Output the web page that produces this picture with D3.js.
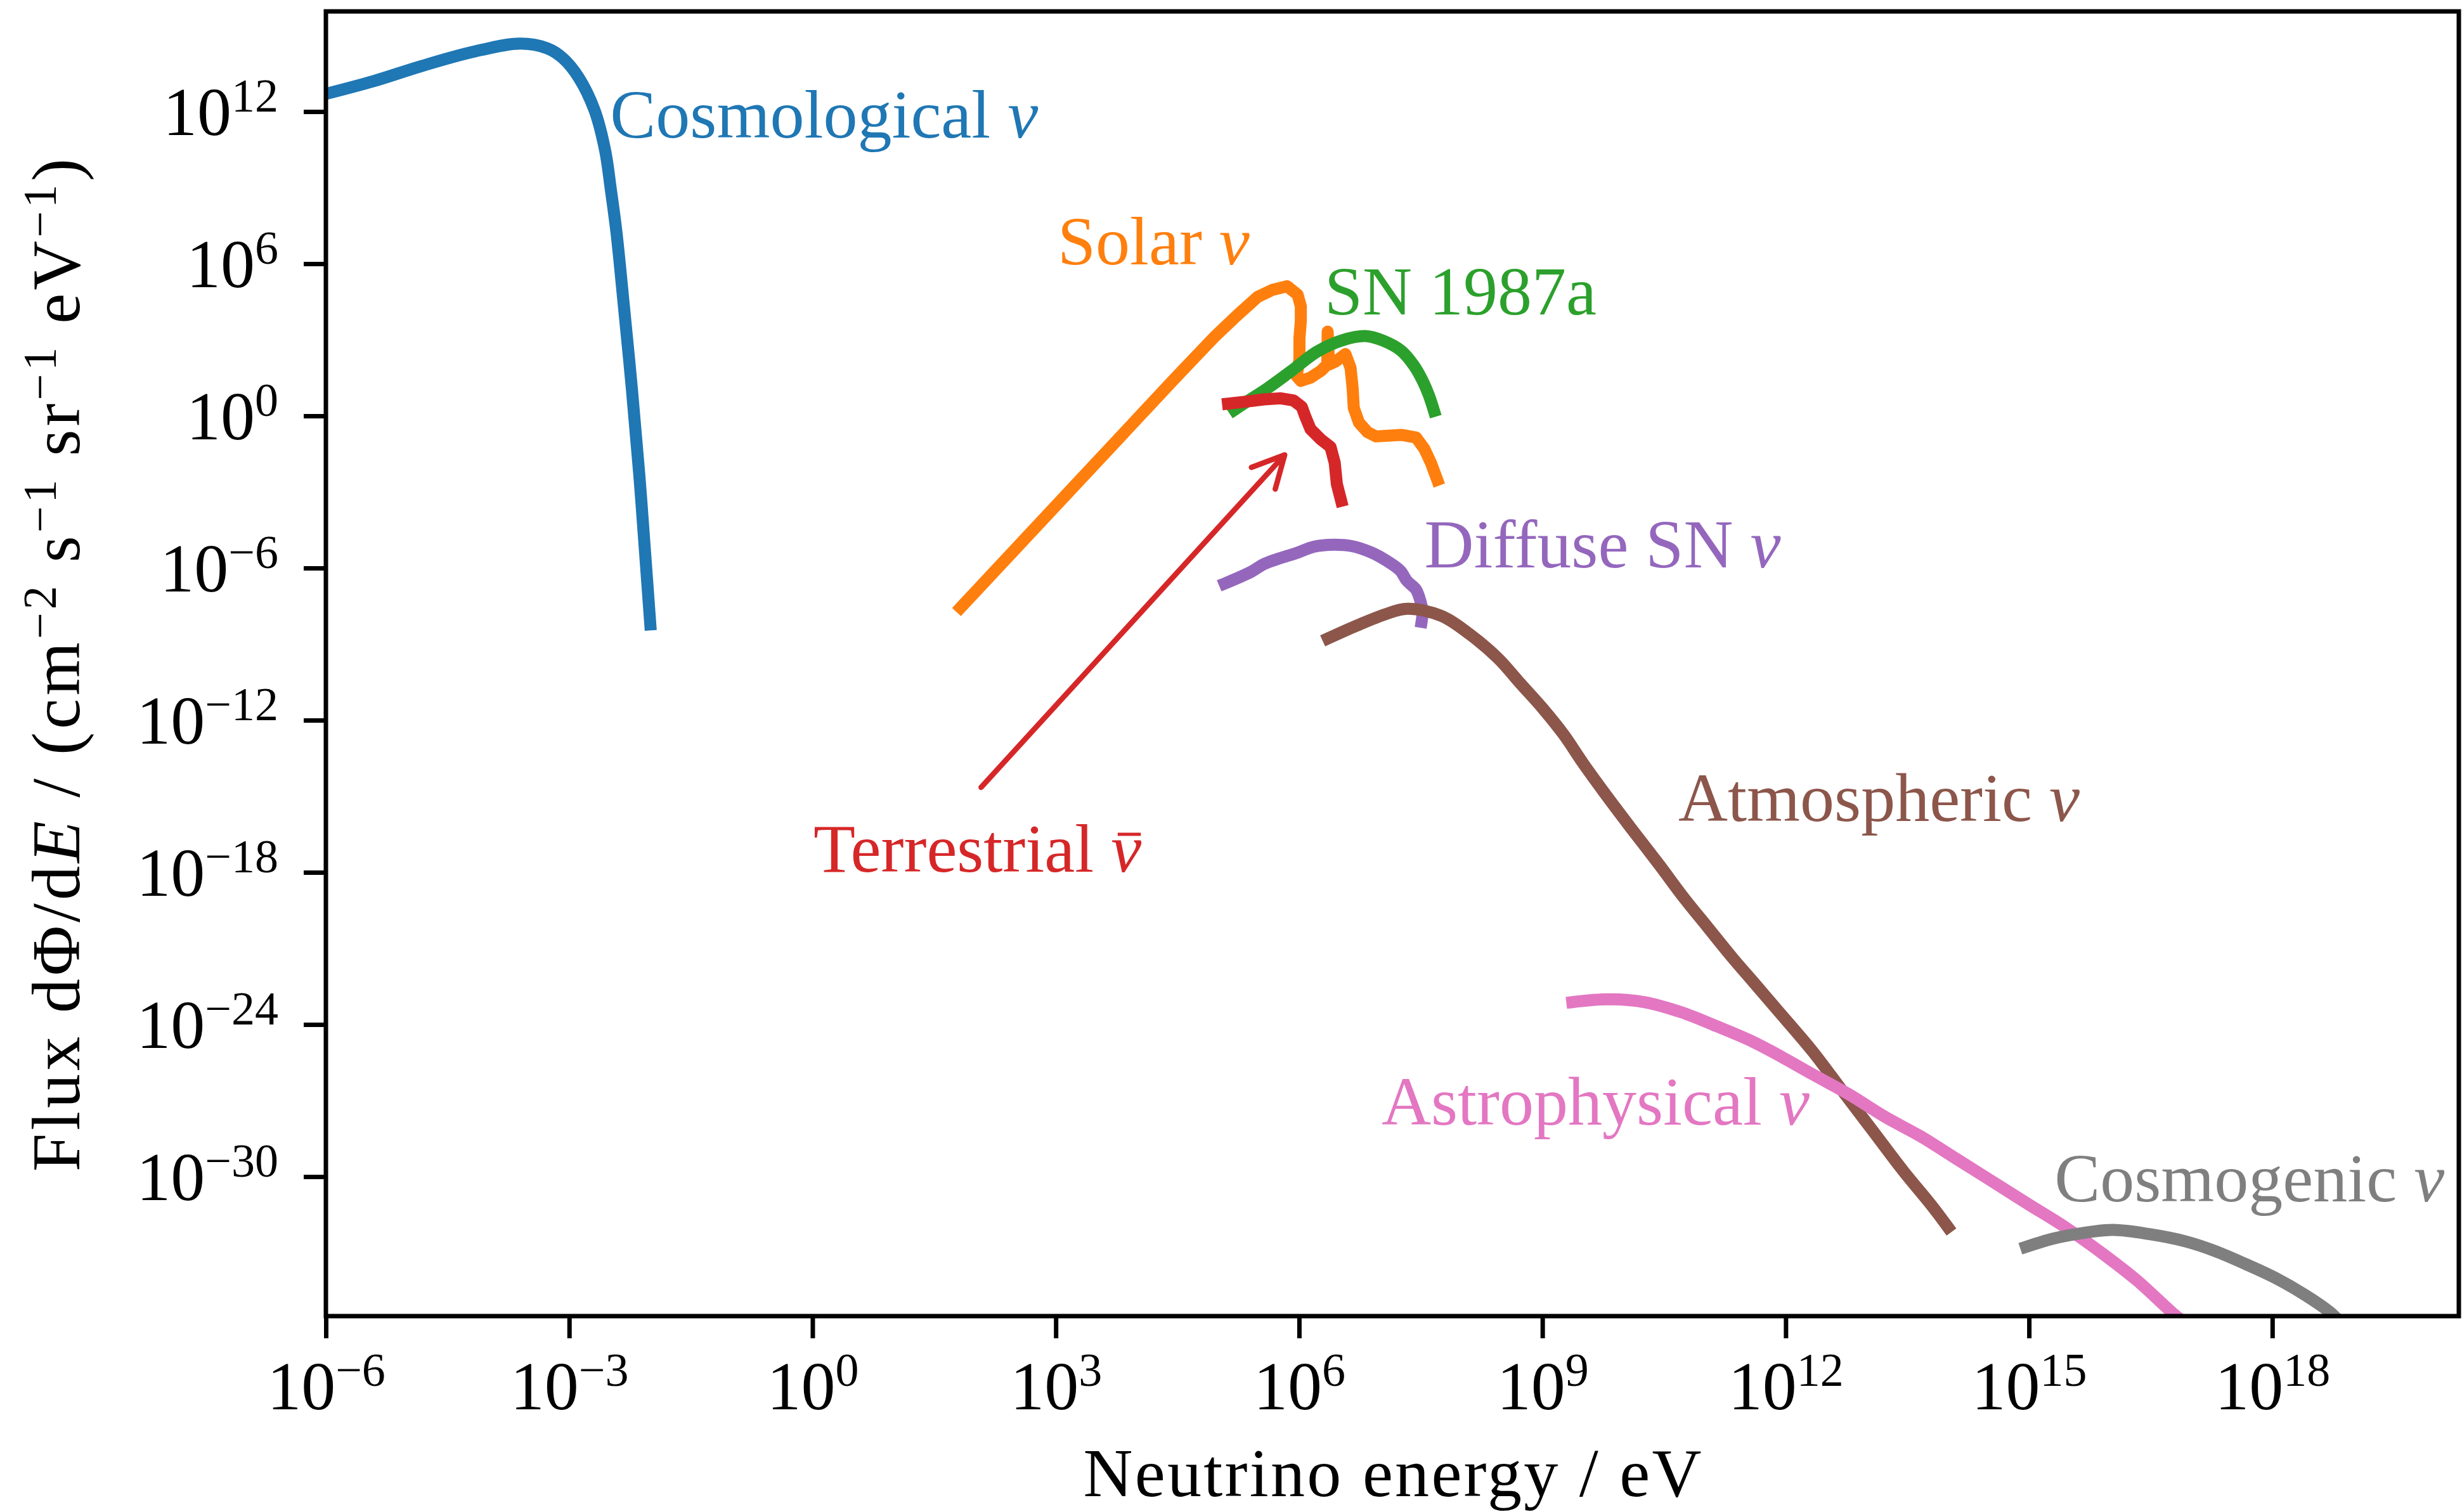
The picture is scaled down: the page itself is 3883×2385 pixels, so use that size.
<!DOCTYPE html>
<html>
<head>
<meta charset="utf-8">
<script src="https://cdn.jsdelivr.net/npm/d3@7"></script>
<style>
  html, body { margin: 0; padding: 0; background: #ffffff; }
  svg { display: block; }
  text { font-family: "Liberation Serif", "Times New Roman", serif; white-space: pre; }
</style>
</head>
<body>
<svg id="chart" width="3883" height="2385"></svg>
<script>
// ---- Data: neutrino flux spectra, [energy in eV, flux in cm^-2 s^-1 sr^-1 eV^-1] ----
const cosmological = [
  [1.0e-6, 5.0e12], [3.9e-6, 1.6e13], [1.5e-5, 6.2e13], [6.65e-5, 2.3e14],
  [2.5e-4, 4.8e14], [5.4e-4, 3.1e14], [8.4e-4, 1.26e14], [1.31e-3, 2.2e13],
  [2.05e-3, 1.15e12], [2.77e-3, 3.0e10], [3.27e-3, 7.9e8], [3.83e-3, 1.68e7],
  [4.69e-3, 2.72e4], [5.92e-3, 12.2], [7.29e-3, 5.5e-3], [8.72e-3, 2.5e-6], [1.0e-2, 6.0e-9]
];
const solar = [
  [67, 2.75e-8], [2.79e4, 25], [5.08e4, 188], [9.27e4, 1.41e3], [1.69e5, 8.7e3],
  [3.08e5, 4.9e4], [4.68e5, 9.3e4], [7.13e5, 1.29e5], [9.6e5, 5.96e4], [1.05e6, 2.09e4],
  [1.05e6, 5.4e3], [1.01e6, 1.17e3], [1.01e6, 170], [9.33e5, 37], [1.05e6, 24],
  [1.38e6, 32], [1.86e6, 60], [2.23e6, 106], [2.25e6, 2.1e3], [2.34e6, 106],
  [2.83e6, 141], [3.72e6, 275], [4.31e6, 79], [4.58e6, 11.7], [4.72e6, 2.07],
  [5.48e6, 0.54], [6.97e6, 0.229], [8.85e6, 0.155], [1.82e7, 0.178], [2.77e7, 0.141],
  [3.52e7, 0.049], [4.22e7, 0.0141], [5.05e7, 3.0e-3]
];
const sn1987a = [
  [1.59e5, 1.71], [2.28e5, 3.69], [4.15e5, 12.8], [8.04e5, 59.6], [1.65e6, 335],
  [3.39e6, 955], [6.76e6, 1.4e3], [1.06e7, 955], [1.82e7, 369], [2.61e7, 96],
  [3.32e7, 25.1], [3.98e7, 6.56], [4.61e7, 1.56]
];
const terrestrial = [
  [1.33e5, 3.04], [2.28e5, 3.69], [3.68e5, 4.47], [5.96e5, 4.92], [8.53e5, 4.06],
  [1.08e6, 2.28], [1.19e6, 0.962], [1.38e6, 0.304], [1.86e6, 0.117], [2.44e6, 0.0596],
  [2.75e6, 0.0141], [2.92e6, 2.07e-3], [3.3e6, 4.47e-4]
];
const diffuseSN = [
  [1.21e5, 2.45e-7], [2.58e5, 7.2e-7], [3.77e5, 1.48e-6], [9.7e5, 4.1e-6],
  [1.51e6, 6.9e-6], [2.66e6, 8.3e-6], [4.4e6, 7.4e-6], [7.8e6, 4.1e-6],
  [1.21e7, 1.9e-6], [1.77e7, 7.8e-7], [2.13e7, 3.16e-7], [2.75e7, 1.45e-7],
  [3.12e7, 5.2e-8], [3.32e7, 1.86e-8], [3.24e7, 7.6e-9]
];
const atmospheric = [
  [2.28e6, 1.68e-9], [5.1e6, 5.3e-9], [1.14e7, 1.48e-8], [2.16e7, 2.47e-8],
  [5.68e7, 1.3e-8], [1.27e8, 2.45e-9], [2.84e8, 2.75e-10], [5.4e8, 2.72e-11],
  [1.03e9, 2.7e-12], [1.83e9, 2.7e-13], [3.16e9, 2.04e-14], [6.0e9, 1.2e-15],
  [1.24e10, 5.5e-17], [2.77e10, 1.95e-18], [5.7e10, 8.9e-20], [1.09e11, 6.9e-21],
  [2.23e11, 4.1e-22], [3.98e11, 4.8e-23], [7.74e11, 4.0e-24], [2.16e12, 8.5e-26],
  [5.06e12, 2.3e-27], [1.19e13, 6.3e-29], [2.79e13, 1.74e-30], [6.55e13, 6.2e-32],
  [1.0e14, 1.02e-32]
];
const astrophysical = [
  [2.34e9, 7.6e-24], [6.5e9, 9.8e-24], [1.82e10, 7.6e-24], [5.06e10, 3.1e-24],
  [1.41e11, 8.5e-25], [3.92e11, 2.1e-25], [9.2e11, 5.0e-26], [2.16e12, 1.07e-26],
  [6.0e12, 1.78e-27], [1.67e13, 2.3e-28], [4.66e13, 3.8e-29], [1.29e14, 4.9e-30],
  [3.6e14, 6.2e-31], [1.0e15, 7.9e-32], [2.79e15, 1.02e-32], [7.8e15, 1.0e-33],
  [2.16e16, 7.9e-35], [6.0e16, 4.0e-36], [7.9e16, 2.0e-36]
];
const cosmogenic = [
  [9.2e14, 1.7e-33], [1.99e15, 3.6e-33], [4.66e15, 6.0e-33], [1.09e16, 7.9e-33],
  [3.05e16, 5.4e-33], [8.5e16, 2.8e-33], [1.99e17, 1.15e-33], [4.67e17, 3.6e-34],
  [1.1e18, 1.0e-34], [2.57e18, 2.1e-35], [5.1e18, 4.6e-36], [6.6e18, 2.1e-36]
];

// Tick values and their exponent labels
const xTicks = [1e-6, 1e-3, 1e0, 1e3, 1e6, 1e9, 1e12, 1e15, 1e18];
const xTickExps = ["\u22126", "\u22123", "0", "3", "6", "9", "12", "15", "18"];
const yTicks = [1e12, 1e6, 1e0, 1e-6, 1e-12, 1e-18, 1e-24, 1e-30];
const yTickExps = ["12", "6", "0", "\u22126", "\u221212", "\u221218", "\u221224", "\u221230"];

// Series labels: name, particle symbol, and [energy, flux] of the text's left baseline point
const labelNames = ["Cosmological", "Solar", "SN 1987a", "Terrestrial", "Diffuse SN", "Atmospheric", "Astrophysical", "Cosmogenic"];
const labelSymbols = ["nu", "nu", "", "antinu", "nu", "nu", "nu", "nu"];
const labelAnchors = [
  [3.2e-3, 9.4e10], [1.05e3, 9.4e5], [2.06e6, 1.0e4], [1.03, 1.06e-18],
  [3.5e7, 1.06e-6], [4.75e10, 1.06e-16], [1.04e7, 1.12e-28], [2.06e15, 1.03e-31]
];
// Arrow from the terrestrial label to its curve: [tail, head]
const terrestrialArrow = [[1.2e2, 2.24e-15], [6.64e5, 2.9e-2]];

// ---- Layout ----
const W = 3883, H = 2385;
const m = { left: 514, right: 3878, top: 18, bottom: 2076 };
const FS = 108, SUP = 74, RAISE = 37, LW = 19;

const x = d3.scaleLog().domain([1e-6, Math.pow(10, 20.3)]).range([m.left, m.right]);
const y = d3.scaleLog().domain([Math.pow(10, -35.5), Math.pow(10, 15.95)]).range([m.bottom, m.top]);

const svg = d3.select("#chart").attr("viewBox", `0 0 ${W} ${H}`);
svg.append("rect").attr("width", W).attr("height", H).attr("fill", "#ffffff");

svg.append("defs").append("clipPath").attr("id", "plotClip")
  .append("rect").attr("x", m.left).attr("y", m.top)
  .attr("width", m.right - m.left).attr("height", m.bottom - m.top);

const straight = d3.line().x(d => x(d[0])).y(d => y(d[1]));
const smooth = d3.line().x(d => x(d[0])).y(d => y(d[1])).curve(d3.curveCatmullRom.alpha(0.5));

const series = [
  { data: cosmological, color: "#1f77b4", gen: smooth },
  { data: solar, color: "#ff7f0e", gen: straight },
  { data: sn1987a, color: "#2ca02c", gen: smooth },
  { data: terrestrial, color: "#d62728", gen: straight },
  { data: diffuseSN, color: "#9467bd", gen: smooth },
  { data: atmospheric, color: "#8c564b", gen: smooth },
  { data: astrophysical, color: "#e377c2", gen: smooth },
  { data: cosmogenic, color: "#7f7f7f", gen: smooth }
];

const plot = svg.append("g").attr("clip-path", "url(#plotClip)");
plot.selectAll("path.flux").data(series).join("path")
  .attr("class", "flux")
  .attr("d", s => s.gen(s.data))
  .attr("fill", "none")
  .attr("stroke", s => s.color)
  .attr("stroke-width", LW)
  .attr("stroke-linejoin", "round")
  .attr("stroke-linecap", "square");

// Arrow pointing at the terrestrial antineutrino curve
const [tail, head] = terrestrialArrow.map(p => [x(p[0]), y(p[1])]);
const ang = Math.atan2(head[1] - tail[1], head[0] - tail[0]);
const hl = 56, ha = 27 * Math.PI / 180;
const arrowPath = d3.path();
arrowPath.moveTo(tail[0], tail[1]);
arrowPath.lineTo(head[0], head[1]);
arrowPath.moveTo(head[0] - hl * Math.cos(ang - ha), head[1] - hl * Math.sin(ang - ha));
arrowPath.lineTo(head[0], head[1]);
arrowPath.lineTo(head[0] - hl * Math.cos(ang + ha), head[1] - hl * Math.sin(ang + ha));
svg.append("path").attr("d", arrowPath.toString())
  .attr("fill", "none").attr("stroke", "#d62728").attr("stroke-width", 8.5)
  .attr("stroke-linecap", "round").attr("stroke-linejoin", "round");

// Series labels
labelNames.forEach((name, i) => {
  const ax = x(labelAnchors[i][0]), ay = y(labelAnchors[i][1]);
  const t = svg.append("text")
    .attr("x", ax).attr("y", ay)
    .attr("font-size", FS).attr("fill", series[i].color);
  const sym = labelSymbols[i];
  t.append("tspan").text(sym ? name + " " : name);
  if (!sym) return;
  t.append("tspan").attr("font-style", "italic").text("\u03bd");
  if (sym === "antinu") {
    // overbar of the antineutrino symbol, placed over the slanted glyph
    const k = t.node().getNumberOfChars() - 1;
    const ext = t.node().getExtentOfChar(k);
    svg.append("line")
      .attr("x1", ext.x + 0.22 * ext.width).attr("x2", ext.x + 0.98 * ext.width)
      .attr("y1", ay - 59).attr("y2", ay - 59)
      .attr("stroke", series[i].color).attr("stroke-width", 5);
  }
});

// Axes
const gx = svg.append("g").attr("transform", `translate(0,${m.bottom})`)
  .call(d3.axisBottom(x).tickValues(xTicks).tickSize(35).tickFormat(() => ""));
gx.attr("font-family", null).attr("font-size", null);
gx.select(".domain").remove();
gx.selectAll(".tick line").attr("stroke", "#000").attr("stroke-width", 7);
gx.selectAll(".tick text").each(function (d, i) {
  const t = d3.select(this).attr("y", 147).attr("dy", null)
    .attr("fill", "#000").attr("font-size", FS).attr("text-anchor", "middle");
  t.append("tspan").text("10");
  t.append("tspan").attr("dy", -RAISE).attr("font-size", SUP).text(xTickExps[i]);
});

const gy = svg.append("g").attr("transform", `translate(${m.left},0)`)
  .call(d3.axisLeft(y).tickValues(yTicks).tickSize(35).tickFormat(() => ""));
gy.attr("font-family", null).attr("font-size", null);
gy.select(".domain").remove();
gy.selectAll(".tick line").attr("stroke", "#000").attr("stroke-width", 7);
gy.selectAll(".tick text").each(function (d, i) {
  const t = d3.select(this).attr("x", -75).attr("y", 36).attr("dy", null)
    .attr("fill", "#000").attr("font-size", FS).attr("text-anchor", "end");
  t.append("tspan").text("10");
  t.append("tspan").attr("dy", -RAISE).attr("font-size", SUP).text(yTickExps[i]);
});

// Frame
svg.append("rect")
  .attr("x", m.left).attr("y", m.top)
  .attr("width", m.right - m.left).attr("height", m.bottom - m.top)
  .attr("fill", "none").attr("stroke", "#000").attr("stroke-width", 7);

// Axis titles
svg.append("text")
  .attr("x", (m.left + m.right) / 2).attr("y", 2360)
  .attr("text-anchor", "middle").attr("font-size", FS).attr("fill", "#000")
  .attr("textLength", 975).attr("lengthAdjust", "spacing")
  .text("Neutrino energy / eV");

const yl = svg.append("text")
  .attr("transform", `translate(125,${(250 + 1848) / 2}) rotate(-90)`)
  .attr("text-anchor", "middle").attr("font-size", FS).attr("fill", "#000")
  .attr("textLength", 1598).attr("lengthAdjust", "spacing");
yl.append("tspan").text("Flux d\u03a6/d");
yl.append("tspan").attr("font-style", "italic").text("E");
yl.append("tspan").text(" / (cm");
yl.append("tspan").attr("dy", -RAISE).attr("font-size", SUP).text("\u22122");
yl.append("tspan").attr("dy", RAISE).text(" s");
yl.append("tspan").attr("dy", -RAISE).attr("font-size", SUP).text("\u22121");
yl.append("tspan").attr("dy", RAISE).text(" sr");
yl.append("tspan").attr("dy", -RAISE).attr("font-size", SUP).text("\u22121");
yl.append("tspan").attr("dy", RAISE).text(" eV");
yl.append("tspan").attr("dy", -RAISE).attr("font-size", SUP).text("\u22121");
yl.append("tspan").attr("dy", RAISE).text(")");
</script>
</body>
</html>
